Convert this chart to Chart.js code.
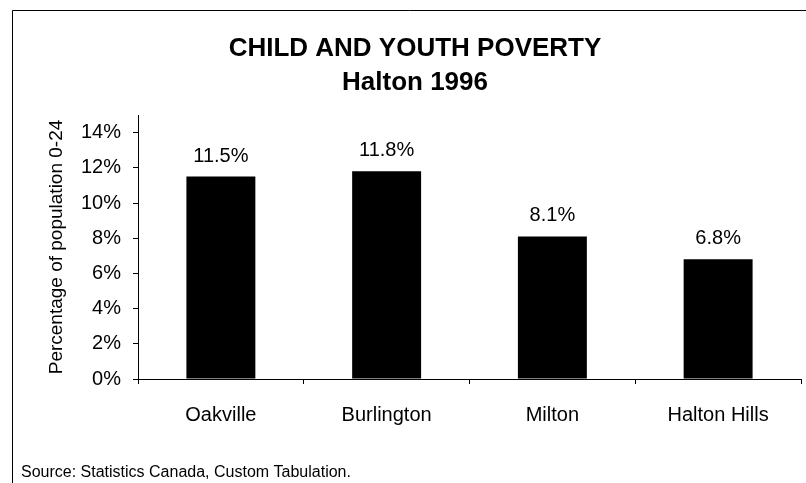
<!DOCTYPE html>
<html>
<head>
<meta charset="utf-8">
<title>Child and Youth Poverty - Halton 1996</title>
<script src="https://cdn.jsdelivr.net/npm/chart.js@4/dist/chart.umd.min.js"></script>
<style>
  html, body { margin: 0; padding: 0; background: #fff; overflow: hidden; }
  #wrap { width: 806px; height: 483px; }
  canvas { display: block; }
</style>
</head>
<body>
<div id="wrap"><canvas id="povertyChart" width="806" height="483"></canvas></div>
<script>
// Chart data
const municipalities = ['Oakville', 'Burlington', 'Milton', 'Halton Hills'];
const povertyRates = [11.5, 11.8, 8.1, 6.8];
const yTickValues = [0, 2, 4, 6, 8, 10, 12, 14];

const FONT = "'Liberation Sans', Arial, Helvetica, sans-serif";

// Frame around the chart plus the source note at the bottom
const framePlugin = {
    id: 'frame',
    afterDraw(chart) {
        const ctx = chart.ctx;
        ctx.save();
        ctx.strokeStyle = '#000';
        ctx.lineWidth = 1;
        ctx.beginPath();
        ctx.moveTo(12.5, chart.height);
        ctx.lineTo(12.5, 10.5);
        ctx.lineTo(chart.width, 10.5);
        ctx.stroke();

        ctx.fillStyle = '#000';
        ctx.font = '16px ' + FONT;
        ctx.textAlign = 'left';
        ctx.textBaseline = 'alphabetic';
        ctx.fillText('Source: Statistics Canada, Custom Tabulation.', 21, 477);
        ctx.restore();
    }
};

// Percentage labels above each bar
const valueLabels = {
    id: 'valueLabels',
    afterDatasetsDraw(chart) {
        const ctx = chart.ctx;
        const meta = chart.getDatasetMeta(0);
        ctx.save();
        ctx.fillStyle = '#000';
        ctx.font = '20px ' + FONT;
        ctx.textAlign = 'center';
        ctx.textBaseline = 'alphabetic';
        meta.data.forEach((bar, i) => {
            ctx.fillText(povertyRates[i].toFixed(1) + '%', bar.x, bar.y - 15);
        });
        ctx.restore();
    }
};

const ctx = document.getElementById('povertyChart').getContext('2d');

new Chart(ctx, {
    type: 'bar',
    data: {
        labels: municipalities,
        datasets: [{
            data: povertyRates,
            backgroundColor: '#000',
            borderWidth: 0,
            categoryPercentage: 1,
            barPercentage: 0.416
        }]
    },
    options: {
        responsive: false,
        animation: false,
        devicePixelRatio: 1,
        layout: {
            padding: { left: 29, right: 5, top: 0, bottom: 0 }
        },
        plugins: {
            legend: { display: false },
            tooltip: { enabled: false },
            title: {
                display: true,
                text: ['CHILD AND YOUTH POVERTY', 'Halton 1996'],
                color: '#000',
                font: { family: FONT, size: 26, weight: 'bold', lineHeight: 34 / 26 },
                padding: { top: 32, bottom: 15 }
            }
        },
        scales: {
            x: {
                afterFit(scale) { scale.height = 104; },
                border: { display: true, color: '#000', width: 1 },
                grid: {
                    offset: true,
                    drawOnChartArea: false,
                    drawTicks: true,
                    tickLength: 5,
                    color: '#000'
                },
                ticks: {
                    color: '#000',
                    padding: 19,
                    maxRotation: 0,
                    font: { family: FONT, size: 20 }
                }
            },
            y: {
                min: 0,
                max: 15,
                afterFit(scale) { scale.width = 109; },
                afterBuildTicks(scale) {
                    scale.ticks = yTickValues.map(v => ({ value: v }));
                },
                border: { display: true, color: '#000', width: 1 },
                grid: {
                    drawOnChartArea: false,
                    drawTicks: true,
                    tickLength: 5,
                    color: '#000'
                },
                ticks: {
                    color: '#000',
                    padding: 12,
                    font: { family: FONT, size: 20 },
                    callback: value => value + '%'
                },
                title: {
                    display: true,
                    text: 'Percentage of population 0-24',
                    color: '#000',
                    font: { family: FONT, size: 19 },
                    padding: { top: 16, bottom: 0 }
                }
            }
        }
    },
    plugins: [framePlugin, valueLabels]
});
</script>
</body>
</html>
